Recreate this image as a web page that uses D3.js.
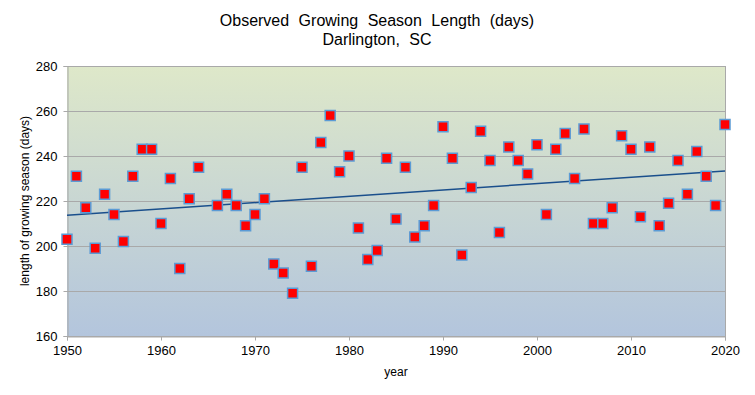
<!DOCTYPE html>
<html>
<head>
<meta charset="utf-8">
<script src="https://cdn.jsdelivr.net/npm/d3@7"></script>
<style>
  body { margin: 0; background: #fff; }
  text { font-family: "Liberation Sans", Arial, sans-serif; fill: #000; }
</style>
</head>
<body>
<div id="canvas"></div>
<script>
// growing season length (days) by year, Darlington SC -- 1965 has no value
var years = [1950, 1951, 1952, 1953, 1954, 1955, 1956, 1957, 1958, 1959,
             1960, 1961, 1962, 1963, 1964, 1966, 1967, 1968, 1969,
             1970, 1971, 1972, 1973, 1974, 1975, 1976, 1977, 1978, 1979,
             1980, 1981, 1982, 1983, 1984, 1985, 1986, 1987, 1988, 1989,
             1990, 1991, 1992, 1993, 1994, 1995, 1996, 1997, 1998, 1999,
             2000, 2001, 2002, 2003, 2004, 2005, 2006, 2007, 2008, 2009,
             2010, 2011, 2012, 2013, 2014, 2015, 2016, 2017, 2018, 2019,
             2020];
var days = [203, 231, 217, 199, 223, 214, 202, 231, 243, 243,
            210, 230, 190, 221, 235, 218, 223, 218, 209,
            214, 221, 192, 188, 179, 235, 191, 246, 258, 233,
            240, 208, 194, 198, 239, 212, 235, 204, 209, 218,
            253, 239, 196, 226, 251, 238, 206, 244, 238, 232,
            245, 214, 243, 250, 230, 252, 210, 210, 217, 249,
            243, 213, 244, 209, 219, 238, 223, 242, 231, 218,
            254];
var xTicks = [1950, 1960, 1970, 1980, 1990, 2000, 2010, 2020];
var yTicks = [160, 180, 200, 220, 240, 260, 280];

var width = 755, height = 395;
var plotL = 67, plotR = 725, plotT = 66, plotB = 336;

var svg = d3.select("div#canvas").append("svg")
  .attr("width", width)
  .attr("height", height);

var x = d3.scaleLinear().domain([1950, 2020]).range([plotL, plotR]);
var y = d3.scaleLinear().domain([160, 280]).range([plotB, plotT]);

// background gradient of the plot area
var grad = svg.append("defs").append("linearGradient")
  .attr("id", "bg").attr("x1", 0).attr("y1", 0).attr("x2", 0).attr("y2", 1);
grad.append("stop").attr("offset", "0%").attr("stop-color", "#dee8c9");
grad.append("stop").attr("offset", "100%").attr("stop-color", "#b3c5dd");

svg.append("rect")
  .attr("x", plotL).attr("y", plotT)
  .attr("width", plotR - plotL).attr("height", plotB - plotT)
  .attr("fill", "url(#bg)");

// gridlines
svg.selectAll("line.grid")
  .data(yTicks)
  .enter().append("line")
  .attr("class", "grid")
  .attr("x1", plotL).attr("x2", plotR)
  .attr("y1", function(d) { return Math.round(y(d)) + 0.5; })
  .attr("y2", function(d) { return Math.round(y(d)) + 0.5; })
  .attr("stroke", "#a9a9a9").attr("stroke-width", 1);

// axes
var xAxis = svg.append("g")
  .attr("transform", "translate(0," + (plotB + 0.5) + ")")
  .call(d3.axisBottom(x).tickValues(xTicks).tickFormat(d3.format("d")).tickSize(4).tickPadding(5));
var yAxis = svg.append("g")
  .attr("transform", "translate(" + (plotL + 0.5) + ",0)")
  .call(d3.axisLeft(y).tickValues(yTicks).tickSize(4).tickPadding(6));

[xAxis, yAxis].forEach(function(ax) {
  ax.select(".domain").attr("stroke", "#a9a9a9");
  ax.selectAll(".tick line").attr("stroke", "#a9a9a9");
  ax.selectAll(".tick text")
    .style("font-family", "'Liberation Sans', Arial, sans-serif")
    .style("font-size", "13px")
    .attr("fill", "#000");
});
yAxis.selectAll(".tick text").attr("dy", "0.36em");

// right border
svg.append("line")
  .attr("x1", plotR + 0.5).attr("x2", plotR + 0.5)
  .attr("y1", plotT).attr("y2", plotB + 4)
  .attr("stroke", "#a9a9a9");

// linear trend from the data
var pts = years.map(function(yr, i) { return [yr, days[i]]; });
var mx = d3.mean(years), my = d3.mean(days);
var sxy = d3.sum(pts, function(p) { return (p[0] - mx) * (p[1] - my); });
var sxx = d3.sum(years, function(v) { return (v - mx) * (v - mx); });
var slope = sxy / sxx, icpt = my - slope * mx;

svg.append("line")
  .attr("x1", x(1950)).attr("y1", y(icpt + slope * 1950))
  .attr("x2", x(2020)).attr("y2", y(icpt + slope * 2020))
  .attr("stroke", "#1a4f8c").attr("stroke-width", 1.5);

// markers
var s = 10;
svg.selectAll("rect.pt")
  .data(pts)
  .enter().append("rect")
  .attr("class", "pt")
  .attr("x", function(d) { return x(d[0]) - s / 2; })
  .attr("y", function(d) { return y(d[1]) - s / 2; })
  .attr("width", s).attr("height", s)
  .attr("fill", "#ff0000")
  .attr("stroke", "#5b9bd5").attr("stroke-width", 1.5);

// titles
svg.append("text")
  .attr("x", 377).attr("y", 26)
  .attr("text-anchor", "middle")
  .style("font-size", "16px").style("word-spacing", "5px")
  .text("Observed Growing Season Length (days)");
svg.append("text")
  .attr("x", 377).attr("y", 45)
  .attr("text-anchor", "middle")
  .style("font-size", "16px").style("word-spacing", "5px")
  .text("Darlington, SC");

svg.append("text")
  .attr("x", 396).attr("y", 376)
  .attr("text-anchor", "middle")
  .style("font-size", "12px")
  .text("year");

svg.append("text")
  .attr("transform", "translate(29," + ((plotT + plotB) / 2) + ") rotate(-90)")
  .attr("text-anchor", "middle")
  .style("font-size", "12px")
  .text("length of growing season (days)");
</script>
</body>
</html>
